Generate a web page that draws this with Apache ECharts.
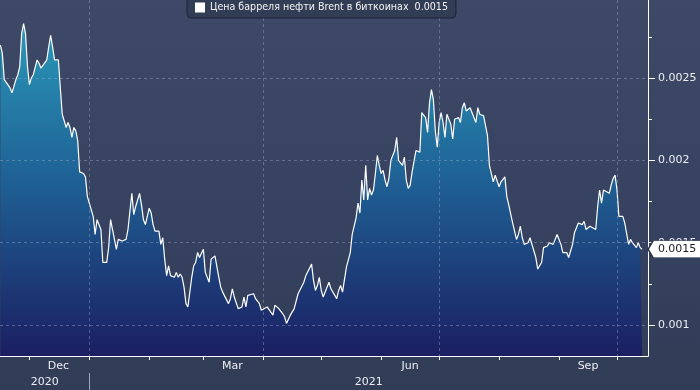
<!DOCTYPE html>
<html>
<head>
<meta charset="utf-8">
<script src="https://cdn.jsdelivr.net/npm/echarts@6/dist/echarts.min.js"></script>
<style>
html,body{margin:0;padding:0;}
#c{width:700px;height:390px;background:linear-gradient(to bottom,#3d4966 0%,#364260 55%,#313c56 100%);}
</style>
</head>
<body>
<div id="c"></div>
<script>
const seriesName = 'Цена барреля нефти Brent в биткоинах';
const dates = [
'2020-11-16','2020-11-17','2020-11-18','2020-11-19','2020-11-21','2020-11-22','2020-11-23','2020-11-24','2020-11-25','2020-11-26',
'2020-11-27','2020-11-28','2020-11-29','2020-11-30','2020-12-01','2020-12-02','2020-12-03','2020-12-04','2020-12-05','2020-12-06',
'2020-12-07','2020-12-08','2020-12-10','2020-12-11','2020-12-12','2020-12-13','2020-12-14','2020-12-15','2020-12-16','2020-12-17',
'2020-12-18','2020-12-19','2020-12-20','2020-12-21','2020-12-22','2020-12-23','2020-12-24','2020-12-25','2020-12-26','2020-12-27',
'2020-12-29','2020-12-30','2020-12-31','2021-01-01','2021-01-03','2021-01-04','2021-01-05','2021-01-07','2021-01-08','2021-01-10',
'2021-01-11','2021-01-12','2021-01-13','2021-01-14','2021-01-15','2021-01-16','2021-01-17','2021-01-18','2021-01-20','2021-01-21',
'2021-01-22','2021-01-23','2021-01-24','2021-01-25','2021-01-26','2021-01-27','2021-01-28','2021-01-29','2021-01-30','2021-01-31',
'2021-02-01','2021-02-02','2021-02-03','2021-02-04','2021-02-05','2021-02-06','2021-02-07','2021-02-08','2021-02-09','2021-02-10',
'2021-02-11','2021-02-12','2021-02-13','2021-02-14','2021-02-15','2021-02-16','2021-02-17','2021-02-18','2021-02-19','2021-02-20',
'2021-02-21','2021-02-22','2021-02-23','2021-02-24','2021-02-25','2021-02-26','2021-02-27','2021-03-01','2021-03-02','2021-03-03',
'2021-03-04','2021-03-05','2021-03-07','2021-03-08','2021-03-09','2021-03-10','2021-03-11','2021-03-12','2021-03-14','2021-03-15',
'2021-03-16','2021-03-17','2021-03-19','2021-03-20','2021-03-21','2021-03-22','2021-03-23','2021-03-24','2021-03-25','2021-03-27',
'2021-03-28','2021-03-29','2021-03-30','2021-03-31','2021-04-01','2021-04-03','2021-04-04','2021-04-06','2021-04-07','2021-04-09',
'2021-04-11','2021-04-12','2021-04-13','2021-04-15','2021-04-16','2021-04-17','2021-04-19','2021-04-20','2021-04-22','2021-04-23',
'2021-04-24','2021-04-26','2021-04-27','2021-04-28','2021-04-29','2021-04-30','2021-05-01','2021-05-02','2021-05-03','2021-05-05',
'2021-05-06','2021-05-07','2021-05-08','2021-05-09','2021-05-10','2021-05-11','2021-05-12','2021-05-14','2021-05-16','2021-05-17',
'2021-05-18','2021-05-19','2021-05-20','2021-05-21','2021-05-22','2021-05-23','2021-05-24','2021-05-25','2021-05-26','2021-05-27',
'2021-05-28','2021-05-29','2021-05-30','2021-05-31','2021-06-01','2021-06-02','2021-06-03','2021-06-04','2021-06-05','2021-06-06',
'2021-06-07','2021-06-08','2021-06-09','2021-06-10','2021-06-11','2021-06-12','2021-06-13','2021-06-14','2021-06-15','2021-06-16',
'2021-06-17','2021-06-18','2021-06-19','2021-06-20','2021-06-21','2021-06-22','2021-06-23','2021-06-24','2021-06-25','2021-06-26',
'2021-06-27','2021-06-28','2021-06-29','2021-06-30','2021-07-01','2021-07-02','2021-07-03','2021-07-04','2021-07-05','2021-07-07',
'2021-07-08','2021-07-09','2021-07-10','2021-07-11','2021-07-12','2021-07-13','2021-07-14','2021-07-15','2021-07-16','2021-07-17',
'2021-07-18','2021-07-20','2021-07-21','2021-07-22','2021-07-23','2021-07-24','2021-07-26','2021-07-27','2021-07-28','2021-07-29',
'2021-07-30','2021-08-01','2021-08-02','2021-08-04','2021-08-05','2021-08-06','2021-08-08','2021-08-09','2021-08-10','2021-08-11',
'2021-08-12','2021-08-13','2021-08-14','2021-08-15','2021-08-16','2021-08-17','2021-08-18','2021-08-20','2021-08-21','2021-08-22',
'2021-08-23','2021-08-24','2021-08-26','2021-08-27','2021-08-28','2021-08-29','2021-08-30','2021-08-31','2021-09-02','2021-09-03',
'2021-09-05','2021-09-06','2021-09-07','2021-09-08','2021-09-09','2021-09-10','2021-09-11','2021-09-12','2021-09-13','2021-09-14',
'2021-09-15','2021-09-16','2021-09-17','2021-09-18','2021-09-20','2021-09-21','2021-09-22','2021-09-23','2021-09-24','2021-09-25',
'2021-09-27','2021-09-28','2021-09-29','2021-09-30','2021-10-01','2021-10-02','2021-10-03','2021-10-04','2021-10-05','2021-10-07',
'2021-10-08','2021-10-09','2021-10-11','2021-10-12','2021-10-13','2021-10-14'
];
const values = [
0.00270,0.00265,0.00249,0.00249,0.00244,0.00241,0.00241,0.00249,0.00252,0.00257,
0.00277,0.00283,0.00277,0.00257,0.00246,0.00250,0.00252,0.00251,0.00261,0.00259,
0.00256,0.00256,0.00261,0.00269,0.00276,0.00269,0.00261,0.00262,0.00261,0.00244,
0.00228,0.00228,0.00220,0.00223,0.00220,0.00214,0.00220,0.00218,0.00212,0.00193,
0.00192,0.00190,0.00178,0.00178,0.00166,0.00155,0.00164,0.00158,0.00138,0.00138,
0.00147,0.00164,0.00163,0.00152,0.00146,0.00152,0.00153,0.00151,0.00152,0.00158,
0.00169,0.00180,0.00167,0.00172,0.00173,0.00180,0.00173,0.00164,0.00161,0.00166,
0.00171,0.00168,0.00161,0.00157,0.00156,0.00157,0.00149,0.00153,0.00140,0.00130,
0.00136,0.00130,0.00131,0.00129,0.00132,0.00129,0.00131,0.00129,0.00123,0.00113,
0.00111,0.00110,0.00129,0.00136,0.00138,0.00144,0.00141,0.00146,0.00132,0.00132,
0.00126,0.00140,0.00142,0.00141,0.00129,0.00123,0.00120,0.00121,0.00113,0.00116,
0.00122,0.00117,0.00110,0.00110,0.00111,0.00117,0.00111,0.00118,0.00119,0.00119,
0.00116,0.00117,0.00113,0.00109,0.00110,0.00111,0.00112,0.00106,0.00112,0.00110,
0.00107,0.00105,0.00101,0.00106,0.00107,0.00110,0.00119,0.00118,0.00126,0.00130,
0.00130,0.00137,0.00127,0.00121,0.00124,0.00129,0.00121,0.00117,0.00118,0.00126,
0.00122,0.00122,0.00118,0.00116,0.00121,0.00124,0.00120,0.00135,0.00144,0.00155,
0.00156,0.00165,0.00174,0.00168,0.00188,0.00176,0.00197,0.00176,0.00183,0.00179,
0.00182,0.00192,0.00203,0.00197,0.00192,0.00194,0.00188,0.00184,0.00189,0.00200,
0.00200,0.00206,0.00214,0.00200,0.00199,0.00197,0.00202,0.00188,0.00183,0.00185,
0.00193,0.00194,0.00206,0.00207,0.00205,0.00229,0.00228,0.00226,0.00217,0.00235,
0.00243,0.00237,0.00218,0.00208,0.00223,0.00229,0.00223,0.00214,0.00228,0.00222,
0.00213,0.00225,0.00226,0.00226,0.00223,0.00232,0.00235,0.00230,0.00231,0.00232,
0.00232,0.00223,0.00232,0.00228,0.00229,0.00227,0.00215,0.00197,0.00196,0.00187,
0.00191,0.00184,0.00187,0.00190,0.00178,0.00173,0.00162,0.00161,0.00152,0.00155,
0.00160,0.00153,0.00149,0.00150,0.00150,0.00153,0.00153,0.00141,0.00134,0.00133,
0.00138,0.00147,0.00148,0.00150,0.00149,0.00149,0.00149,0.00155,0.00149,0.00144,
0.00144,0.00141,0.00140,0.00149,0.00156,0.00155,0.00162,0.00162,0.00161,0.00163,
0.00158,0.00158,0.00160,0.00160,0.00158,0.00172,0.00182,0.00174,0.00182,0.00183,
0.00180,0.00185,0.00189,0.00191,0.00182,0.00166,0.00165,0.00166,0.00162,0.00149,
0.00152,0.00150,0.00147,0.00150,0.00147,0.00146
];
const yLabelValues = [0.001, 0.0015, 0.002, 0.0025];
const yMinorTickValues = [0.001, 0.00125, 0.0015, 0.00175, 0.002, 0.00225, 0.0025, 0.00275];
const monthTickDates = ['2020-12-01','2021-01-01','2021-02-01','2021-03-01','2021-04-01','2021-05-01','2021-06-01','2021-07-01','2021-08-01','2021-09-01','2021-10-01'];
const monthLabelDates = ['2020-12-16','2021-03-16','2021-06-16','2021-09-16'];
const monthNames = ['Jan','Feb','Mar','Apr','May','Jun','Jul','Aug','Sep','Oct','Nov','Dec'];
const quarterGridDates = ['2021-01-01','2021-04-01','2021-07-01','2021-10-01'];
const yearBreakDates = ['2021-01-01'];
const yearTickLabels = ['2020','2021'];

function toTs(s, h) {
  const p = s.split('-').map(Number);
  return new Date(p[0], p[1] - 1, p[2], h || 0).getTime();
}
const xMin = toTs('2020-11-15', 19);
const xMax = toTs('2021-10-17', 1);
const yMin = 0.000812, yMax = 0.002974;
const lastVal = values[values.length - 1];
const lastLabel = lastVal.toFixed(4);

const yb = toTs(yearBreakDates[0]);
const yearLabelTs = [(xMin + yb) / 2, (yb + xMax) / 2];

const data = dates.map((d, i) => [toTs(d), values[i]]);
const font = 'DejaVu Sans';
const labelColor = '#eceef3';
const gridLine = {show: true, lineStyle: {color: 'rgba(150,165,200,0.45)', type: [3, 3], width: 1}};

const chart = echarts.init(document.getElementById('c'), null, {renderer: 'canvas'});
chart.setOption({
  backgroundColor: 'transparent',
  animation: false,
  grid: {left: 0, right: 52, top: 0, bottom: 34, containLabel: false},
  legend: {
    show: true, left: 187, top: -4,
    padding: [6, 8, 5, 8],
    backgroundColor: '#313c55', borderColor: '#1c2332', borderWidth: 1, borderRadius: 4,
    icon: 'rect', itemWidth: 10, itemHeight: 10, itemGap: 5,
    itemStyle: {color: '#ffffff', borderWidth: 0},
    textStyle: {color: '#f4f4f4', fontFamily: 'DejaVu Sans Condensed', fontSize: 10.6},
    formatter: name => name + '  ' + lastLabel,
    data: [{name: seriesName, itemStyle: {color: '#ffffff'}}]
  },
  xAxis: [
    {
      type: 'value', min: xMin, max: xMax, position: 'bottom', z: 3,
      axisLine: {show: true, onZero: false, lineStyle: {color: '#ffffff', width: 1}},
      axisTick: {show: true, length: 4, lineStyle: {color: '#ffffff'}, customValues: monthTickDates.map(d => toTs(d))},
      axisLabel: {show: true, customValues: monthLabelDates.map(d => toTs(d)), margin: 5, color: labelColor, fontFamily: font, fontSize: 11,
        formatter: v => monthNames[new Date(v).getMonth()]},
      splitLine: {show: false}
    },
    {
      type: 'value', min: xMin, max: xMax, position: 'bottom', z: 3,
      axisLine: {show: false, onZero: false},
      axisTick: {show: false, customValues: quarterGridDates.map(d => toTs(d))},
      axisLabel: {show: false},
      splitLine: gridLine
    },
    {
      type: 'value', min: xMin, max: xMax, position: 'bottom', offset: 17, z: 3,
      axisLine: {show: false, onZero: false},
      axisTick: {show: true, length: 17, lineStyle: {color: '#9ea6ba'}, customValues: yearBreakDates.map(d => toTs(d))},
      axisLabel: {show: true, customValues: yearLabelTs, margin: 4, color: labelColor, fontFamily: font, fontSize: 11,
        formatter: v => yearTickLabels[v < yb ? 0 : 1]},
      splitLine: {show: false}
    }
  ],
  yAxis: [
    {
      type: 'value', position: 'right', min: yMin, max: yMax, z: 3,
      axisLine: {show: true, onZero: false, lineStyle: {color: '#ffffff', width: 1}},
      axisTick: {show: true, inside: false, length: 7, lineStyle: {color: '#ffffff', width: 1}, customValues: yLabelValues},
      axisLabel: {show: true, customValues: yLabelValues, margin: 10, color: labelColor, fontFamily: font, fontSize: 11,
        formatter: v => String(+(+v).toFixed(4))},
      splitLine: gridLine
    },
    {
      type: 'value', position: 'right', min: yMin, max: yMax, z: 3,
      axisLine: {show: false, onZero: false},
      axisTick: {show: true, length: 4, lineStyle: {color: '#ffffff', width: 1}, customValues: yMinorTickValues},
      axisLabel: {show: false},
      splitLine: {show: false}
    }
  ],
  series: [{
    name: seriesName,
    type: 'line',
    xAxisIndex: 0, yAxisIndex: 0,
    data: data,
    showSymbol: false,
    symbol: 'none',
    z: 2,
    itemStyle: {color: '#ffffff'},
    lineStyle: {color: '#ffffff', width: 1.2},
    areaStyle: {
      opacity: 1,
      color: new echarts.graphic.LinearGradient(0, 0, 0, 1, [
        {offset: 0, color: '#2b98b9'},
        {offset: 0.45, color: '#1f6396'},
        {offset: 1, color: '#1b1f62'}
      ])
    },
    markPoint: {
      z: 10,
      silent: true,
      data: [{
        coord: data[data.length - 1],
        symbol: 'path://M0,8.5 L5,0 L54,0 L54,17 L5,17 Z',
        symbolSize: [54, 17],
        symbolKeepAspect: false,
        symbolOffset: [33, 0],
        itemStyle: {color: '#ffffff', borderColor: '#2a3246', borderWidth: 1},
        label: {show: true, position: 'inside', offset: [2, 0], formatter: lastLabel, color: '#1a1a24', fontFamily: font, fontSize: 11}
      }]
    }
  }]
});
</script>
</body>
</html>
